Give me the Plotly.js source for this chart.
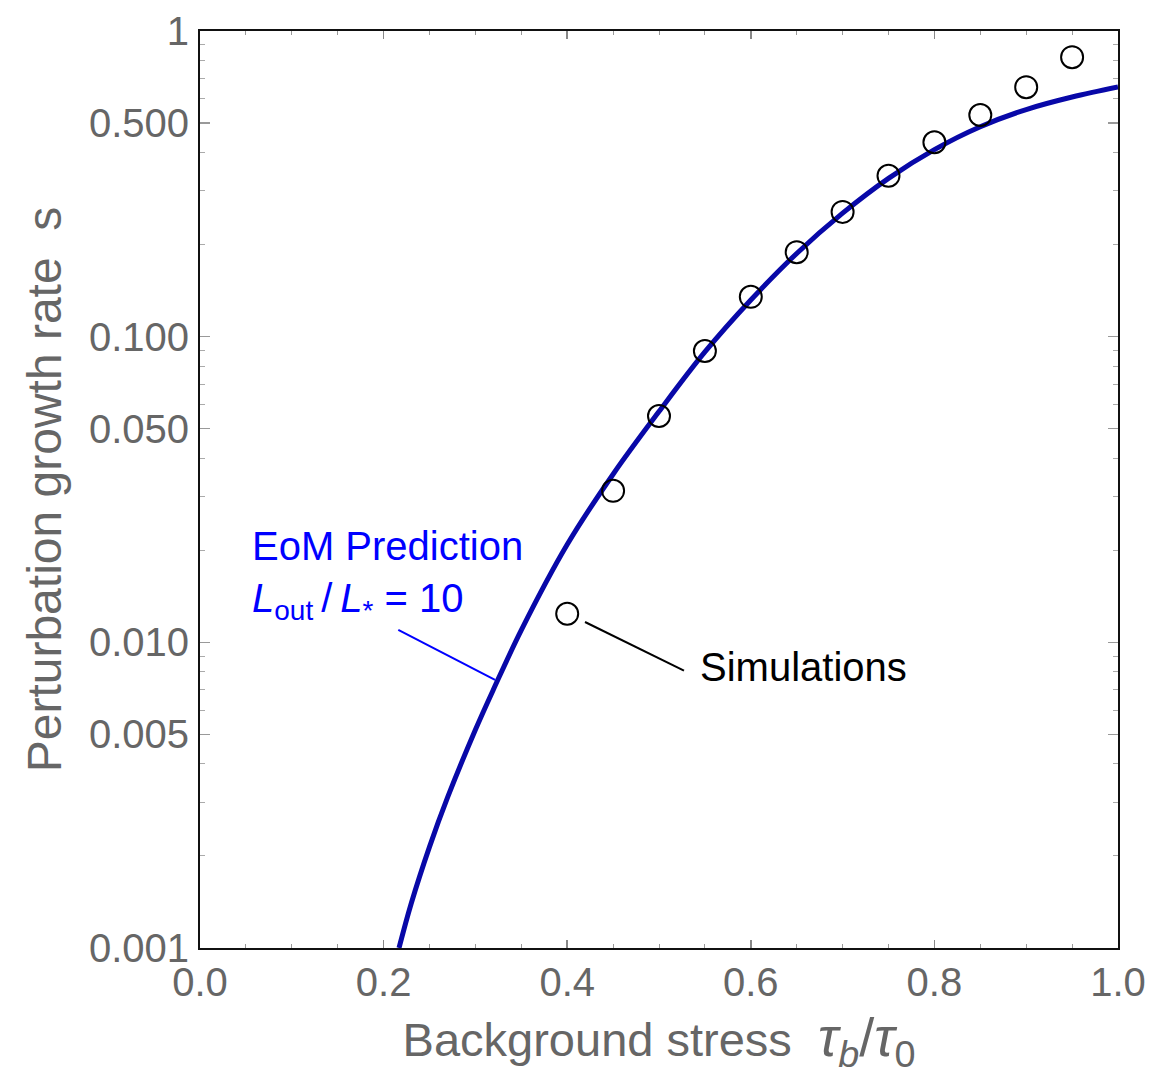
<!DOCTYPE html>
<html>
<head>
<meta charset="utf-8">
<script src="https://cdn.plot.ly/plotly-3.0.1.min.js"></script>
<style>html,body{margin:0;padding:0;background:#fff;}</style>
</head>
<body>
<div id="chart" style="width:1162px;height:1076px;"></div>
<script>
// EoM prediction curve
const curveX = [0.2168, 0.23, 0.25, 0.27, 0.30, 0.32, 0.35, 0.40, 0.45, 0.50, 0.55, 0.60, 0.65, 0.70, 0.75, 0.80, 0.85, 0.90, 0.95, 1.0];
const curveS = [0.001, 0.001396, 0.002143, 0.003126, 0.005176, 0.007047, 0.010965, 0.02089, 0.03548, 0.05689, 0.08913, 0.1318, 0.1871, 0.2535, 0.3296, 0.4093, 0.4864, 0.5534, 0.6081, 0.6561];

// Simulation points
const simX = [0.40, 0.45, 0.50, 0.55, 0.60, 0.65, 0.70, 0.75, 0.80, 0.85, 0.90, 0.95];
const simS = [0.0124, 0.0313, 0.055, 0.0898, 0.135, 0.189, 0.256, 0.336, 0.4325, 0.531, 0.655, 0.821];

// Tick labels
const yTickVals = [0.001, 0.005, 0.01, 0.05, 0.1, 0.5, 1];
const yTickText = ["0.001", "0.005", "0.010", "0.050", "0.100", "0.500", "1"];
const yMinorVals = [0.002,0.003,0.004,0.006,0.007,0.008,0.009,0.02,0.03,0.04,0.06,0.07,0.08,0.09,0.2,0.3,0.4,0.6,0.7,0.8,0.9];
const xTickVals = [0, 0.2, 0.4, 0.6, 0.8, 1.0];
const xTickText = ["0.0", "0.2", "0.4", "0.6", "0.8", "1.0"];

const FONT = "Liberation Sans, Arial, Helvetica, sans-serif";
const GRAY = "#666666";

const traces = [
  {
    x: curveX, y: curveS, type: "scatter", mode: "lines",
    line: {color: "#0808a8", width: 5, shape: "spline", smoothing: 1},
    name: "EoM Prediction", hoverinfo: "x+y"
  },
  {
    x: simX, y: simS, type: "scatter", mode: "markers",
    marker: {symbol: "circle-open", size: 22, color: "#000", line: {color: "#000", width: 2}},
    name: "Simulations", cliponaxis: false
  }
];

const layout = {
  width: 1162, height: 1076,
  margin: {l: 200, r: 44, t: 31, b: 128},
  paper_bgcolor: "#fff", plot_bgcolor: "#fff",
  showlegend: false,
  font: {family: FONT, color: GRAY, size: 40},
  xaxis: {
    range: [0, 1], autorange: false,
    tickmode: "array", tickvals: xTickVals, ticktext: xTickText,
    ticks: "inside", ticklen: 8, tickwidth: 1.5, tickcolor: "#888",
    minor: {tickmode: "linear", tick0: 0, dtick: 0.05, ticks: "inside", ticklen: 4, tickwidth: 1, tickcolor: "#999"},
    showline: true, linecolor: "#111", linewidth: 2, mirror: "allticks",
    showgrid: false, zeroline: false,
    tickfont: {family: FONT, size: 40, color: GRAY},
    ticklabelstandoff: -2,
    automargin: false,
    title: {text: "Background stress\u00a0\u00a0<span style=\"font-size:54px\"><i>τ</i><sub><i>b</i></sub>/<i>τ</i><sub>0</sub></span>", font: {family: FONT, size: 47, color: GRAY}, standoff: 20}
  },
  yaxis: {
    type: "log", range: [-3, 0], autorange: false,
    tickmode: "array", tickvals: yTickVals, ticktext: yTickText,
    ticks: "inside", ticklen: 10, tickwidth: 1.5, tickcolor: "#999",
    minor: {tickmode: "array", tickvals: yMinorVals, ticks: "inside", ticklen: 5, tickwidth: 1, tickcolor: "#aaa"},
    showline: true, linecolor: "#111", linewidth: 2, mirror: "allticks",
    showgrid: false, zeroline: false,
    tickfont: {family: FONT, size: 40, color: GRAY},
    ticklabelstandoff: 1,
    automargin: false,
    title: {text: "Perturbation growth rate\u00a0\u00a0s", font: {family: FONT, size: 48, color: GRAY}, standoff: 12}
  },
  annotations: [
    {xref: "paper", yref: "paper", x: 0.0545, y: 0.4384, xanchor: "left", yanchor: "middle", showarrow: false,
     text: "EoM Prediction", font: {family: FONT, size: 40, color: "#0000ff"}},
    {xref: "paper", yref: "paper", x: 0.0545, y: 0.378, xanchor: "left", yanchor: "middle", showarrow: false,
     text: "<i>L</i><sub>out</sub>\u2009/\u2009<i>L</i><sub>*</sub> = 10", font: {family: FONT, size: 40, color: "#0000ff"}},
    {xref: "paper", yref: "paper", x: 0.5425, y: 0.3064, xanchor: "left", yanchor: "middle", showarrow: false,
     text: "Simulations", font: {family: FONT, size: 40, color: "#000"}}
  ],
  shapes: [
    {type: "line", xref: "paper", yref: "paper", x0: 0.2160, y0: 0.3468, x1: 0.3214, y1: 0.2923,
     line: {color: "#0000ff", width: 2}},
    {type: "line", xref: "paper", yref: "paper", x0: 0.4194, y0: 0.3555, x1: 0.5272, y1: 0.3025,
     line: {color: "#000", width: 2}}
  ]
};

Plotly.newPlot("chart", traces, layout, {displayModeBar: false, staticPlot: true});
</script>
</body>
</html>
